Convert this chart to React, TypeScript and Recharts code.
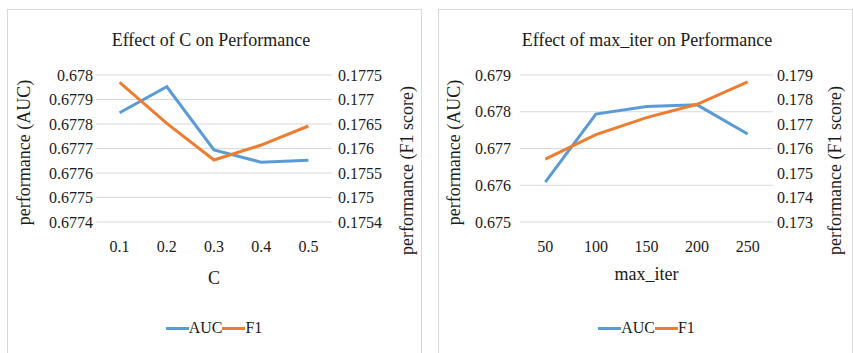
import React from 'react';
import { LineChart, Line, XAxis, YAxis, CartesianGrid, Legend } from 'recharts';

// ---- Chart 1: Effect of C ----
const C_CATEGORIES = ['0.1', '0.2', '0.3', '0.4', '0.5'];
const C_AUC = [0.677846, 0.677952, 0.677694, 0.677644, 0.677652];
const C_F1 = [0.177351, 0.176514, 0.175765, 0.176071, 0.176459];
const C_AUC_TICKS = [0.6774, 0.6775, 0.6776, 0.6777, 0.6778, 0.6779, 0.678];
const C_AUC_TICK_LABELS = ['0.6774', '0.6775', '0.6776', '0.6777', '0.6778', '0.6779', '0.678'];
const C_F1_TICKS = [0.1745, 0.175, 0.1755, 0.176, 0.1765, 0.177, 0.1775];
const C_F1_TICK_LABELS = ['0.1754', '0.175', '0.1755', '0.176', '0.1765', '0.177', '0.1775'];

// ---- Chart 2: Effect of max_iter ----
const ITER_CATEGORIES = ['50', '100', '150', '200', '250'];
const ITER_AUC = [0.676087, 0.677936, 0.678141, 0.678188, 0.677394];
const ITER_F1 = [0.17557, 0.17657, 0.17726, 0.177806, 0.178724];
const ITER_AUC_TICKS = [0.675, 0.676, 0.677, 0.678, 0.679];
const ITER_AUC_TICK_LABELS = ['0.675', '0.676', '0.677', '0.678', '0.679'];
const ITER_F1_TICKS = [0.173, 0.174, 0.175, 0.176, 0.177, 0.178, 0.179];
const ITER_F1_TICK_LABELS = ['0.173', '0.174', '0.175', '0.176', '0.177', '0.178', '0.179'];

const BLUE = '#5B9BD5';
const ORANGE = '#ED7D31';
const GRID = '#d9d9d9';
const TEXT = '#1a1a1a';
const FONT = 'Liberation Serif';

type PanelProps = {
  left: number;
  title: string;
  xLabel: string;
  categories: string[];
  auc: number[];
  f1: number[];
  aucTicks: number[];
  aucTickLabels: string[];
  f1Ticks: number[];
  f1TickLabels: string[];
  margin: { top: number; right: number; bottom: number; left: number };
  xAxisHeight: number;
  xPad: number;
  leftTickMargin: number;
  rightTickMargin: number;
  xLabelOffset: number;
  leftLabelDx: number;
  rightLabelDx: number;
  titleCenter: number;
};

const W = 415;
const H = 344;

const vLabel = (value: string, dx: number, dy: number) => (props: any) => {
  const vb = props.viewBox || {};
  const cx = (vb.x || 0) + dx;
  const cy = (vb.y || 0) + (vb.height || 0) / 2 + dy;
  return (
    <text
      x={cx}
      y={cy}
      transform={`rotate(-90, ${cx}, ${cy})`}
      textAnchor="middle"
      dominantBaseline="central"
      style={{ fontFamily: FONT }}
      fontSize={18}
      fill={TEXT}
    >
      {value}
    </text>
  );
};

const renderLegend = () => (
  <div
    style={{
      display: 'flex',
      justifyContent: 'center',
      alignItems: 'center',
      height: 20,
      fontFamily: FONT,
      fontSize: 16,
      color: TEXT,
    }}
  >
    <span style={{ display: 'inline-block', width: 23, height: 3, background: BLUE }} />
    <span>AUC</span>
    <span style={{ display: 'inline-block', width: 23, height: 3, background: ORANGE }} />
    <span>F1</span>
  </div>
);

const Panel = (p: PanelProps) => {
  const data = p.categories.map((c, i) => ({ cat: c, AUC: p.auc[i], F1: p.f1[i] }));
  const fmt = (ticks: number[], labels: string[]) => (v: number) => {
    let best = 0;
    for (let i = 0; i < ticks.length; i++) {
      if (Math.abs(ticks[i] - v) < Math.abs(ticks[best] - v)) best = i;
    }
    return labels[best];
  };
  const tickStyle = { fontFamily: FONT, fontSize: 16, fill: TEXT, style: { fontFamily: FONT } };
  return (
    <div
      style={{
        position: 'absolute',
        left: p.left,
        top: 9,
        width: W,
        height: 350,
        border: `1px solid ${GRID}`,
        boxSizing: 'border-box',
        background: '#fff',
        fontFamily: FONT,
      }}
    >
      <div
        style={{
          position: 'absolute',
          left: p.titleCenter - 200,
          width: 400,
          top: 19,
          textAlign: 'center',
          fontFamily: FONT,
          fontSize: 18,
          lineHeight: '22px',
          color: TEXT,
        }}
      >
        {p.title}
      </div>
      <div style={{ position: 'absolute', left: 0, top: 0 }}>
        <LineChart width={W} height={H} data={data} margin={p.margin} style={{ fontFamily: FONT }}>
          <CartesianGrid yAxisId="left" vertical={false} stroke={GRID} strokeWidth={1} />
          <XAxis
            dataKey="cat"
            axisLine={false}
            tickLine={false}
            tickSize={0}
            tickMargin={19}
            height={p.xAxisHeight}
            padding={{ left: p.xPad, right: p.xPad }}
            tick={tickStyle}
            interval={0}
            label={{
              value: p.xLabel,
              position: 'insideTop',
              offset: p.xLabelOffset,
              fontFamily: FONT,
              style: { fontFamily: FONT },
              fontSize: 18,
              fill: TEXT,
            }}
          />
          <YAxis
            yAxisId="left"
            orientation="left"
            width={80}
            domain={[p.aucTicks[0], p.aucTicks[p.aucTicks.length - 1]]}
            ticks={p.aucTicks}
            tickFormatter={fmt(p.aucTicks, p.aucTickLabels)}
            axisLine={false}
            tickLine={false}
            tickSize={0}
            tickMargin={p.leftTickMargin}
            tick={tickStyle}
            interval={0}
            label={vLabel('performance (AUC)', p.leftLabelDx, 4)}
          />
          <YAxis
            yAxisId="right"
            orientation="right"
            width={80}
            domain={[p.f1Ticks[0], p.f1Ticks[p.f1Ticks.length - 1]]}
            ticks={p.f1Ticks}
            tickFormatter={fmt(p.f1Ticks, p.f1TickLabels)}
            axisLine={false}
            tickLine={false}
            tickSize={0}
            tickMargin={p.rightTickMargin}
            tick={{ ...tickStyle, textAnchor: 'start' }}
            interval={0}
            label={vLabel('performance (F1 score)', p.rightLabelDx, 22)}
          />
          <Legend verticalAlign="bottom" content={renderLegend} />
          <Line
            yAxisId="left"
            type="linear"
            dataKey="AUC"
            stroke={BLUE}
            strokeWidth={3}
            dot={false}
            activeDot={false}
            isAnimationActive={false}
          />
          <Line
            yAxisId="right"
            type="linear"
            dataKey="F1"
            stroke={ORANGE}
            strokeWidth={3}
            dot={false}
            activeDot={false}
            isAnimationActive={false}
          />
        </LineChart>
      </div>
    </div>
  );
};

export default function App() {
  return (
    <div
      style={{
        position: 'absolute',
        left: 0,
        top: 0,
        width: 853,
        height: 353,
        overflow: 'hidden',
        background: '#fff',
        fontFamily: FONT,
      }}
    >
      <Panel
        left={7}
        title="Effect of C on Performance"
        xLabel="C"
        categories={C_CATEGORIES}
        auc={C_AUC}
        f1={C_F1}
        aucTicks={C_AUC_TICKS}
        aucTickLabels={C_AUC_TICK_LABELS}
        f1Ticks={C_F1_TICKS}
        f1TickLabels={C_F1_TICK_LABELS}
        margin={{ top: 65, right: 11, bottom: 16, left: 8 }}
        xAxisHeight={96}
        xPad={23.6}
        leftTickMargin={3}
        rightTickMargin={6}
        xLabelOffset={49}
        leftLabelDx={8}
        rightLabelDx={75}
        titleCenter={203}
      />
      <Panel
        left={438}
        title="Effect of max_iter on Performance"
        xLabel="max_iter"
        categories={ITER_CATEGORIES}
        auc={ITER_AUC}
        f1={ITER_F1}
        aucTicks={ITER_AUC_TICKS}
        aucTickLabels={ITER_AUC_TICK_LABELS}
        f1Ticks={ITER_F1_TICKS}
        f1TickLabels={ITER_F1_TICK_LABELS}
        margin={{ top: 65, right: 1, bottom: 16, left: 1 }}
        xAxisHeight={96}
        xPad={25.3}
        leftTickMargin={9}
        rightTickMargin={4}
        xLabelOffset={45}
        leftLabelDx={14}
        rightLabelDx={62}
        titleCenter={208}
      />
    </div>
  );
}
